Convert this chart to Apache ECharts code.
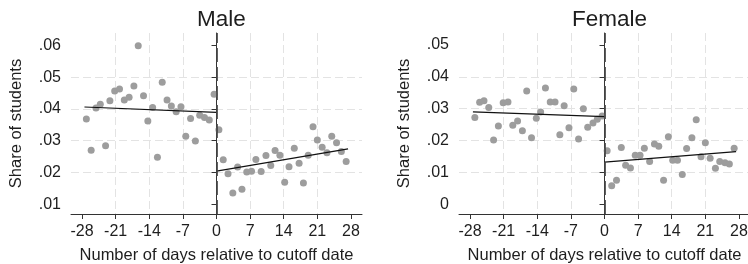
<!DOCTYPE html>
<html>
<head>
<meta charset="utf-8">
<script src="https://cdn.jsdelivr.net/npm/echarts@6.0.0/dist/echarts.min.js"></script>
<style>
  html, body { margin: 0; padding: 0; background: #fff; }
  #chart { width: 748px; height: 264px; }
</style>
</head>
<body>
<div id="chart"></div>
<script>
// tick labels
var xTicks = [-28, -21, -14, -7, 0, 7, 14, 21, 28];
var maleYTicks = [0.01, 0.02, 0.03, 0.04, 0.05, 0.06];
var femaleYTicks = [0, 0.01, 0.02, 0.03, 0.04, 0.05];

// male, before cutoff
var maleLeftDays = [-27.1, -26.1, -25.1, -24.2, -23.1, -22.2, -21.2, -20.2, -19.2, -18.2, -17.2, -16.3, -15.2, -14.3,
  -13.3, -12.3, -11.3, -10.3, -9.4, -8.4, -7.4, -6.4, -5.4, -4.4, -3.5, -2.5, -1.5, -0.5];
var maleLeftShare = [0.0368, 0.0270, 0.0403, 0.0415, 0.0284, 0.0426, 0.0456, 0.0463, 0.0428, 0.0437, 0.0472, 0.0599, 0.0441, 0.0362,
  0.0404, 0.0248, 0.0484, 0.0428, 0.0409, 0.0391, 0.0407, 0.0314, 0.0370, 0.0299, 0.0380, 0.0373, 0.0365, 0.0446];
// male, after cutoff
var maleRightDays = [0.5, 1.4, 2.4, 3.4, 4.4, 5.3, 6.3, 7.3, 8.2, 9.3, 10.3, 11.3, 12.2, 13.2,
  14.2, 15.1, 16.2, 17.2, 18.1, 19.1, 20.1, 21.0, 22.0, 23.0, 24.0, 25.0, 26.0, 27.0];
var maleRightShare = [0.0334, 0.0240, 0.0196, 0.0135, 0.0217, 0.0147, 0.0201, 0.0204, 0.0241, 0.0203, 0.0253, 0.0222, 0.0269, 0.0254,
  0.0169, 0.0218, 0.0276, 0.0229, 0.0167, 0.0254, 0.0344, 0.0302, 0.0279, 0.0262, 0.0314, 0.0293, 0.0266, 0.0234];
var maleFitLeft = [[-27.5, 0.0406], [0, 0.0389]];
var maleFitRight = [[0, 0.0204], [27.4, 0.0274]];

// female, before cutoff
var femaleLeftDays = [-27.0, -26.0, -25.1, -24.1, -23.1, -22.1, -21.1, -20.1, -19.1, -18.1, -17.1, -16.2, -15.2, -14.2,
  -13.3, -12.3, -11.3, -10.3, -9.3, -8.4, -7.4, -6.4, -5.4, -4.4, -3.5, -2.4, -1.5, -0.5];
var femaleLeftShare = [0.0272, 0.0320, 0.0325, 0.0304, 0.0202, 0.0246, 0.0319, 0.0321, 0.0248, 0.0261, 0.0231, 0.0356, 0.0209, 0.0270,
  0.0290, 0.0365, 0.0321, 0.0321, 0.0218, 0.0309, 0.0240, 0.0362, 0.0205, 0.0300, 0.0242, 0.0255, 0.0267, 0.0277];
// female, after cutoff
var femaleRightDays = [0.55, 1.5, 2.5, 3.5, 4.4, 5.4, 6.4, 7.4, 8.3, 9.4, 10.4, 11.3, 12.3, 13.3,
  14.2, 15.2, 16.2, 17.1, 18.2, 19.1, 20.1, 21.0, 22.0, 23.1, 24.0, 25.1, 26.0, 27.0];
var femaleRightShare = [0.0168, 0.0058, 0.0075, 0.0178, 0.0122, 0.0114, 0.0154, 0.0154, 0.0176, 0.0134, 0.0189, 0.0182, 0.0075, 0.0212,
  0.0138, 0.0138, 0.0093, 0.0175, 0.0209, 0.0265, 0.0149, 0.0193, 0.0144, 0.0113, 0.0134, 0.0130, 0.0126, 0.0176];
var femaleFitLeft = [[-27.4, 0.0290], [0, 0.0275]];
var femaleFitRight = [[0, 0.0132], [27.4, 0.0165]];

var font = '"Liberation Sans", Arial, sans-serif';
var textColor = '#1e1e1e';

function pairs(xs, ys) {
  return xs.map(function (x, i) { return [x, ys[i]]; });
}

function shareLabel(v) {
  if (Math.abs(v) < 1e-9) return '0';
  return v.toFixed(2).replace(/^0/, '');
}

function makeX(idx) {
  return {
    type: 'value',
    gridIndex: idx,
    min: -30.3,
    max: 30.3,
    minInterval: 7,
    maxInterval: 7,
    name: 'Number of days relative to cutoff date',
    nameLocation: 'middle',
    nameGap: 33,
    nameTextStyle: { fontSize: 16.5, color: textColor, fontFamily: font },
    axisLine: { onZero: false, lineStyle: { color: '#333', width: 1 } },
    axisTick: { customValues: xTicks, length: 5, lineStyle: { color: '#333' } },
    axisLabel: { customValues: xTicks, fontSize: 16, color: textColor, fontFamily: font, margin: 10 },
    splitLine: { show: true, showMinLine: false, showMaxLine: false, lineStyle: { color: '#e3e3e3', type: [8, 4] } }
  };
}

function makeY(idx, min, max, ticks) {
  return {
    type: 'value',
    gridIndex: idx,
    min: min,
    max: max,
    minInterval: 0.01,
    maxInterval: 0.01,
    name: 'Share of students',
    nameLocation: 'middle',
    nameRotate: 90,
    nameGap: 46,
    nameTextStyle: { fontSize: 16.5, color: textColor, fontFamily: font },
    axisLine: { show: true, lineStyle: { color: '#333', width: 1 } },
    axisTick: { show: true, customValues: ticks, length: 5, lineStyle: { color: '#333' } },
    axisLabel: { customValues: ticks, fontSize: 16, color: textColor, fontFamily: font, margin: 10, formatter: shareLabel },
    splitLine: { show: true, showMinLine: false, showMaxLine: false, lineStyle: { color: '#e3e3e3', type: [8, 4] } }
  };
}

function dots(idx, data, withCutoff) {
  var s = {
    type: 'scatter',
    xAxisIndex: idx,
    yAxisIndex: idx,
    data: data,
    symbolSize: 7,
    itemStyle: { color: '#9d9d9d', opacity: 1 },
    silent: true
  };
  if (withCutoff) {
    s.markLine = {
      silent: true,
      symbol: 'none',
      label: { show: false },
      lineStyle: { color: '#444', type: [14, 5], width: 1.7 },
      data: [{ xAxis: 0 }]
    };
  }
  return s;
}

function fit(idx, data) {
  return {
    type: 'line',
    xAxisIndex: idx,
    yAxisIndex: idx,
    data: data,
    symbol: 'none',
    lineStyle: { color: '#111', width: 1.2 },
    silent: true,
    z: 3
  };
}

var myChart = echarts.init(document.getElementById('chart'));
var option;

option = {
  animation: false,
  backgroundColor: '#fff',
  title: [
    { text: 'Male', left: 216.5, top: 3, textAlign: 'center',
      textStyle: { fontSize: 22.5, fontWeight: 'normal', color: textColor, fontFamily: font } },
    { text: 'Female', left: 604.5, top: 3, textAlign: 'center',
      textStyle: { fontSize: 22.5, fontWeight: 'normal', color: textColor, fontFamily: font } }
  ],
  grid: [
    { left: 71, top: 33, width: 291, height: 181, outerBoundsMode: 'none' },
    { left: 459, top: 33, width: 291, height: 181, outerBoundsMode: 'none' }
  ],
  xAxis: [makeX(0), makeX(1)],
  yAxis: [
    makeY(0, 0.0069, 0.0639, maleYTicks),
    makeY(1, -0.0031, 0.0538, femaleYTicks)
  ],
  series: [
    dots(0, pairs(maleLeftDays, maleLeftShare), true),
    dots(0, pairs(maleRightDays, maleRightShare), false),
    fit(0, maleFitLeft),
    fit(0, maleFitRight),
    dots(1, pairs(femaleLeftDays, femaleLeftShare), true),
    dots(1, pairs(femaleRightDays, femaleRightShare), false),
    fit(1, femaleFitLeft),
    fit(1, femaleFitRight)
  ]
};

option && myChart.setOption(option);
window.onresize = myChart.resize;
</script>
</body>
</html>
